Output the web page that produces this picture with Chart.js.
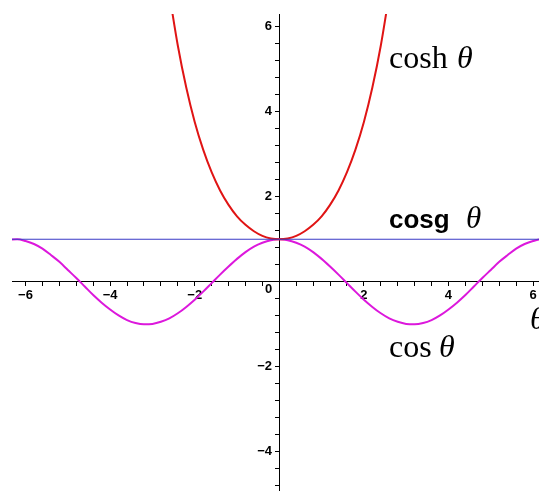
<!DOCTYPE html>
<html>
<head>
<meta charset="utf-8">
<script src="https://cdn.jsdelivr.net/npm/chart.js@4/dist/chart.umd.min.js"></script>
<style>
  html, body { margin: 0; padding: 0; background: #fff; overflow: hidden; }
  #wrap { position: relative; width: 539px; height: 491px; }
</style>
</head>
<body>
<div id="wrap"><canvas id="c" width="539" height="491"></canvas></div>
<script>
// θ samples and function values for the three curves
const thetaCos = [-6.4,-6.2,-6.0,-5.8,-5.6,-5.4,-5.2,-5.0,-4.8,-4.6,-4.4,-4.2,-4.0,-3.8,-3.6,-3.4,-3.2,-3.0,-2.8,-2.6,-2.4,-2.2,-2.0,-1.8,-1.6,-1.4,-1.2,-1.0,-0.8,-0.6,-0.4,-0.2,0,
  0.2,0.4,0.6,0.8,1.0,1.2,1.4,1.6,1.8,2.0,2.2,2.4,2.6,2.8,3.0,3.2,3.4,3.6,3.8,4.0,4.2,4.4,4.6,4.8,5.0,5.2,5.4,5.6,5.8,6.0,6.2,6.4];
const cosValues = [0.99,1.00,0.96,0.89,0.78,0.63,0.47,0.28,0.09,-0.11,-0.31,-0.49,-0.65,-0.79,-0.90,-0.97,-1.00,-0.99,-0.94,-0.86,-0.74,-0.59,-0.42,-0.23,-0.03,0.17,0.36,0.54,0.70,0.83,0.92,0.98,1.00,
  0.98,0.92,0.83,0.70,0.54,0.36,0.17,-0.03,-0.23,-0.42,-0.59,-0.74,-0.86,-0.94,-0.99,-1.00,-0.97,-0.90,-0.79,-0.65,-0.49,-0.31,-0.11,0.09,0.28,0.47,0.63,0.78,0.89,0.96,1.00,0.99];

const thetaCosh = [-2.6,-2.4,-2.2,-2.0,-1.8,-1.6,-1.4,-1.2,-1.0,-0.8,-0.6,-0.4,-0.2,0,0.2,0.4,0.6,0.8,1.0,1.2,1.4,1.6,1.8,2.0,2.2,2.4,2.6];
const coshValues = [6.77,5.56,4.57,3.76,3.11,2.58,2.15,1.81,1.54,1.34,1.19,1.08,1.02,1.00,1.02,1.08,1.19,1.34,1.54,1.81,2.15,2.58,3.11,3.76,4.57,5.56,6.77];

const thetaCosg = [-6.4, 6.4];
const cosgValues = [1, 1];

// axis ticks
const xTickLabels = [-6, -4, -2, 2, 4, 6];
const yTickLabels = [-4, -2, 2, 4, 6];
const minorStep = 0.4;

const pts = (xs, ys) => xs.map((x, i) => ({ x: x, y: ys[i] }));

function minorTicks(scale) {
  const out = [];
  const start = Math.ceil(scale.min / minorStep - 1e-9);
  const end = Math.floor(scale.max / minorStep + 1e-9);
  for (let k = start; k <= end; k++) {
    out.push({ value: Math.round(k * minorStep * 10) / 10 });
  }
  scale.ticks = out;
}

// axes sit inside the plot area, so they take no extra room around it
function noPadding(scale) {
  scale.paddingLeft = 0;
  scale.paddingRight = 0;
  scale.paddingTop = 0;
  scale.paddingBottom = 0;
}

function labelFor(list, suffix) {
  return function (v) {
    const hit = list.find(t => Math.abs(t - v) < 1e-6);
    if (hit === undefined) return '';
    return (hit < 0 ? '\u2212' + Math.abs(hit) : String(hit)) + suffix;
  };
}

// function names and the θ axis title
const annotations = {
  id: 'annotations',
  afterDraw(chart) {
    const ctx = chart.ctx;
    const xs = chart.scales.x, ys = chart.scales.y;
    ctx.save();
    ctx.fillStyle = '#000';

    // origin label
    ctx.font = 'bold 13px "Liberation Sans", Arial, sans-serif';
    ctx.textAlign = 'right';
    ctx.textBaseline = 'top';
    ctx.fillText('0', xs.getPixelForValue(0) - 7, ys.getPixelForValue(0) + 1);

    ctx.textAlign = 'left';
    ctx.textBaseline = 'alphabetic';

    // cosh θ
    ctx.font = '32px "Liberation Serif", "Times New Roman", serif';
    ctx.fillText('cosh', 389, 68);
    ctx.font = 'italic 32px "Liberation Serif", "Times New Roman", serif';
    ctx.fillText('\u03B8', 457, 68);

    // cosg θ
    ctx.font = 'bold 26px "Liberation Sans", Arial, sans-serif';
    ctx.fillText('cosg', 389, 228);
    ctx.font = 'italic 31px "Liberation Serif", "Times New Roman", serif';
    ctx.fillText('\u03B8', 466, 228);

    // cos θ
    ctx.font = '32px "Liberation Serif", "Times New Roman", serif';
    ctx.fillText('cos', 389, 357);
    ctx.font = 'italic 32px "Liberation Serif", "Times New Roman", serif';
    ctx.fillText('\u03B8', 439, 357);

    // axis variable
    ctx.font = 'italic 32px "Liberation Serif", "Times New Roman", serif';
    ctx.fillText('\u03B8', 530, 329);
    ctx.restore();
  }
};

new Chart(document.getElementById('c'), {
  type: 'scatter',
  data: {
    datasets: [
      {
        label: 'cosg θ',
        data: pts(thetaCosg, cosgValues),
        showLine: true,
        borderColor: '#3a3ac6',
        borderWidth: 1.1,
        pointRadius: 0,
        tension: 0
      },
      {
        label: 'cosh θ',
        data: pts(thetaCosh, coshValues),
        showLine: true,
        borderColor: '#e01414',
        borderWidth: 2,
        pointRadius: 0,
        cubicInterpolationMode: 'monotone'
      },
      {
        label: 'cos θ',
        data: pts(thetaCos, cosValues),
        showLine: true,
        borderColor: '#dc18dc',
        borderWidth: 2,
        pointRadius: 0,
        cubicInterpolationMode: 'monotone'
      }
    ]
  },
  options: {
    responsive: false,
    animation: false,
    layout: { padding: { left: 12, right: 0, top: 14, bottom: 0 } },
    plugins: { legend: { display: false }, tooltip: { enabled: false } },
    scales: {
      x: {
        type: 'linear',
        min: -6.32,
        max: 6.14,
        position: { y: 0 },
        afterBuildTicks: minorTicks,
        afterFit: noPadding,
        grid: { drawOnChartArea: false, drawTicks: true, tickLength: 4, color: '#000', tickWidth: 1 },
        border: { display: true, color: '#000', width: 1 },
        ticks: {
          autoSkip: false,
          maxRotation: 0,
          padding: 2,
          color: '#000',
          font: { family: '"Liberation Sans", Arial, sans-serif', size: 13, weight: 'bold' },
          callback: labelFor(xTickLabels, '')
        }
      },
      y: {
        type: 'linear',
        min: -4.92,
        max: 6.3,
        position: { x: 0 },
        afterBuildTicks: minorTicks,
        afterFit: noPadding,
        grid: { drawOnChartArea: false, drawTicks: true, tickLength: 4, color: '#000', tickWidth: 1 },
        border: { display: true, color: '#000', width: 1 },
        ticks: {
          autoSkip: false,
          padding: 3,
          color: '#000',
          font: { family: '"Liberation Sans", Arial, sans-serif', size: 13, weight: 'bold' },
          callback: labelFor(yTickLabels, '  ')
        }
      }
    }
  },
  plugins: [annotations]
});
</script>
</body>
</html>
